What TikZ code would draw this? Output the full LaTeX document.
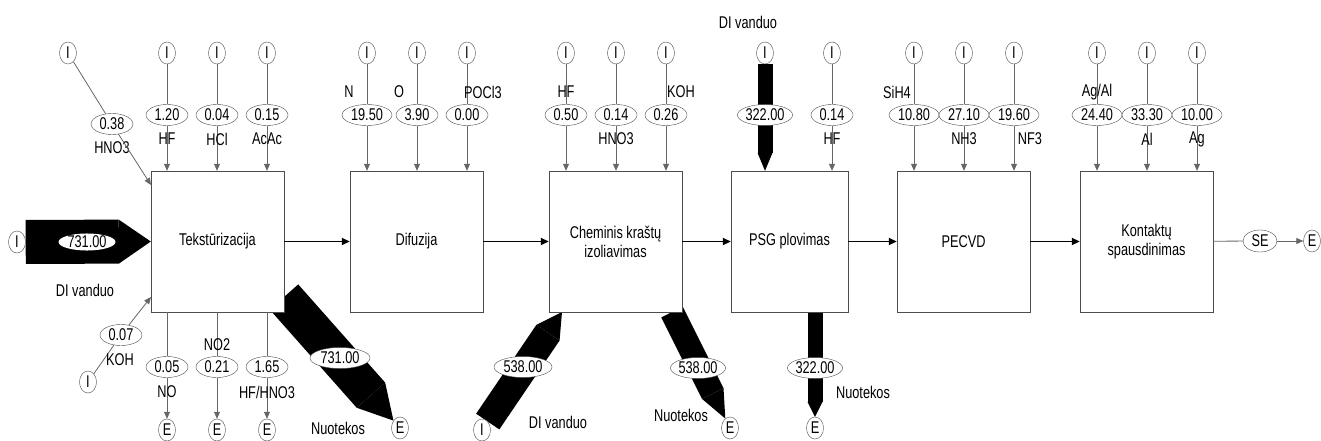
\documentclass[tikz,border=0pt]{standalone}
\usepackage{fontspec}
\setmainfont{Liberation Sans}[FakeStretch=0.75]
\usepackage{tikz}
\usetikzlibrary{arrows.meta,positioning,calc,shapes.geometric,backgrounds}

\begin{document}
\begin{tikzpicture}[x=1pt,y=-1pt,font=\fontsize{17}{19}\selectfont,
  proc/.style={draw=black!70,fill=white,minimum width=133pt,minimum height=141pt,inner sep=0pt,align=center},
  src/.style={ellipse,draw=black!70,fill=white,minimum width=17pt,minimum height=22pt,inner sep=0pt},
  val/.style={ellipse,draw=black!70,fill=white,minimum width=42pt,minimum height=21pt,inner sep=0pt},
  lbl/.style={inner sep=0pt},
  thinline/.style={draw=black!60,line width=0.8pt},
  feed/.style={thinline,-{Triangle[length=7pt,width=6pt]}},
  flow/.style={line width=1.8pt,-{Triangle[length=8pt,width=7pt]}},
  band/.style 2 args={line width=#1,-{Triangle[length=#2,width=#1,line width=0pt]}}]
  \useasboundingbox (0,0) rectangle (1321,441);

  % process boxes
  \node[proc] (tex) at (217.5,241.5) {Tekstūrizacija};
  \node[proc] (dif) at (416.5,241.5) {Difuzija};
  \node[proc] (chem) at (615.5,241.5) {Cheminis kraštų\\izoliavimas};
  \node[proc,minimum width=117pt] (psg) at (789.5,241.5) {PSG plovimas};
  \node[proc] (pec) at (963.5,241.5) {PECVD};
  \node[proc] (kon) at (1146.5,241.5) {Kontaktų\\spausdinimas};
  \draw[flow] (tex) -- (dif);
  \draw[flow] (dif) -- (chem);
  \draw[flow] (chem) -- (psg);
  \draw[flow] (psg) -- (pec);
  \draw[flow] (pec) -- (kon);

  % Teksturizacija
  \node[src] (i10) at (68,53) {I};
  \node[val] (v10) at (112,124) {0.38};
  \node[lbl] at (112,148) {HNO3};
  \coordinate (hn) at (151,185);
  \draw[thinline] (i10) -- (v10);
  \draw[feed] (v10) -- (hn);
  \node[src] (i11) at (167,53) {I};
  \node[val] (v11) at (167,115) {1.20};
  \node[src] (i12) at (217,53) {I};
  \node[val] (v12) at (217,115) {0.04};
  \node[src] (i13) at (267,53) {I};
  \node[val] (v13) at (267,115) {0.15};
  \draw[thinline] (i11) -- (v11);
  \draw[thinline] (i12) -- (v12);
  \draw[thinline] (i13) -- (v13);
  \draw[feed] (v11) -- (tex.north -| v11);
  \draw[feed] (v12) -- (tex.north -| v12);
  \draw[feed] (v13) -- (tex.north -| v13);
  \node[lbl] at (167,139) {HF};
  \node[lbl] at (217,139) {HCl};
  \node[lbl] at (267,139) {AcAc};
  \node[src] (ik) at (88,382) {I};
  \node[val] (vk) at (121,335) {0.07};
  \coordinate (kb) at (151,297);
  \draw[thinline] (ik) -- (vk);
  \draw[feed] (vk) -- (kb);
  \node[lbl] at (120,360) {KOH};
  \node[src] (idw) at (17,242) {I};
  \node[src] (e11) at (167,430) {E};
  \node[val] (o11) at (167,367) {0.05};
  \node[src] (e12) at (217,430) {E};
  \node[val] (o12) at (217,367) {0.21};
  \node[src] (e13) at (267,430) {E};
  \node[val] (o13) at (267,367) {1.65};
  \draw[thinline] (tex.south -| o11) -- (o11);
  \draw[thinline] (tex.south -| o12) -- (o12);
  \draw[thinline] (tex.south -| o13) -- (o13);
  \draw[feed] (o11) -- (e11);
  \draw[feed] (o12) -- (e12);
  \draw[feed] (o13) -- (e13);
  \node[lbl] at (167,392) {NO};
  \node[lbl] at (217,345) {NO2};
  \node[lbl] at (267,392) {HF/HNO3};
  \node[src] (e14) at (400,428) {E};
  \coordinate (t14) at (284,297);

  % Difuzija
  \node[src] (i21) at (367,53) {I};
  \node[val,minimum width=50pt] (v21) at (367,115) {19.50};
  \node[src] (i22) at (417,53) {I};
  \node[val] (v22) at (417,115) {3.90};
  \node[src] (i23) at (467,53) {I};
  \node[val] (v23) at (467,115) {0.00};
  \draw[thinline] (i21) -- (v21);
  \draw[thinline] (i22) -- (v22);
  \draw[thinline] (i23) -- (v23);
  \draw[feed] (v21) -- (dif.north -| v21);
  \draw[feed] (v22) -- (dif.north -| v22);
  \draw[feed] (v23) -- (dif.north -| v23);
  \node[lbl] at (349,92) {N};
  \node[lbl] at (399,92) {O};
  \node[lbl] at (483,92) {POCl3};

  % Cheminis krastu izoliavimas
  \node[src] (i31) at (566,53) {I};
  \node[val] (v31) at (566,115) {0.50};
  \node[src] (i32) at (616,53) {I};
  \node[val] (v32) at (616,115) {0.14};
  \node[src] (i33) at (666,53) {I};
  \node[val] (v33) at (666,115) {0.26};
  \draw[thinline] (i31) -- (v31);
  \draw[thinline] (i32) -- (v32);
  \draw[thinline] (i33) -- (v33);
  \draw[feed] (v31) -- (chem.north -| v31);
  \draw[feed] (v32) -- (chem.north -| v32);
  \draw[feed] (v33) -- (chem.north -| v33);
  \node[lbl] at (566,92) {HF};
  \node[lbl] at (616,139) {HNO3};
  \node[lbl] at (681,92) {KOH};
  \node[src] (i34) at (482,430) {I};
  \coordinate (c34) at (562,312);
  \node[src] (e35) at (730,428) {E};
  \coordinate (c35) at (672,312);

  % PSG plovimas
  \node[src] (i41) at (765,53) {I};
  \node[src] (i42) at (832,53) {I};
  \node[val] (v42) at (832,115) {0.14};
  \draw[thinline] (i42) -- (v42);
  \draw[feed] (v42) -- (psg.north -| v42);
  \node[lbl] at (748,22) {DI vanduo};
  \node[lbl] at (832,139) {HF};
  \node[src] (e43) at (815,428) {E};

  % PECVD
  \node[src] (i51) at (914,53) {I};
  \node[val,minimum width=50pt] (v51) at (914,115) {10.80};
  \node[src] (i52) at (964,53) {I};
  \node[val,minimum width=50pt] (v52) at (964,115) {27.10};
  \node[src] (i53) at (1014,53) {I};
  \node[val,minimum width=50pt] (v53) at (1014,115) {19.60};
  \draw[thinline] (i51) -- (v51);
  \draw[thinline] (i52) -- (v52);
  \draw[thinline] (i53) -- (v53);
  \draw[feed] (v51) -- (pec.north -| v51);
  \draw[feed] (v52) -- (pec.north -| v52);
  \draw[feed] (v53) -- (pec.north -| v53);
  \node[lbl] at (897,92) {SiH4};
  \node[lbl] at (964,139) {NH3};
  \node[lbl] at (1030,139) {NF3};

  % Kontaktu spausdinimas
  \node[src] (i61) at (1097,53) {I};
  \node[val,minimum width=50pt] (v61) at (1097,115) {24.40};
  \node[src] (i62) at (1147,53) {I};
  \node[val,minimum width=50pt] (v62) at (1147,115) {33.30};
  \node[src] (i63) at (1197,53) {I};
  \node[val,minimum width=50pt] (v63) at (1197,115) {10.00};
  \draw[thinline] (i61) -- (v61);
  \draw[thinline] (i62) -- (v62);
  \draw[thinline] (i63) -- (v63);
  \draw[feed] (v61) -- (kon.north -| v61);
  \draw[feed] (v62) -- (kon.north -| v62);
  \draw[feed] (v63) -- (kon.north -| v63);
  \node[lbl] at (1097,92) {Ag/Al};
  \node[lbl] at (1147,139) {Al};
  \node[lbl] at (1197,139) {Ag};
  \node[ellipse,draw=black!70,minimum width=34pt,minimum height=22pt,inner sep=0pt] (se) at (1260,241) {SE};
  \node[src] (e6) at (1312,241) {E};
  \draw[thinline] (kon) -- (se);
  \draw[feed] (se) -- (e6);

  % heavy water streams
  \begin{scope}[on background layer]
    \draw[band={44pt}{32pt}] (idw) -- (tex.west);
    \draw[band={38pt}{34pt}] (t14) -- (e14);
    \draw[band={28pt}{25pt}] (i34) -- (c34);
    \draw[band={24pt}{28pt}] (c35) -- (e35);
    \draw[band={15pt}{18pt}] (i41) -- (psg.north -| i41);
    \draw[band={15pt}{15pt}] (psg.south -| e43) -- (e43);
  \end{scope}
  \node[val,draw=none,minimum width=57pt,minimum height=17pt] at (87,242) {731.00};
  \node[lbl] at (85,290) {DI vanduo};
  \node[val,minimum width=60pt] at (340,358) {731.00};
  \node[lbl] at (338,428) {Nuotekos};
  \node[val,minimum width=58pt] at (523,367) {538.00};
  \node[lbl] at (558,422) {DI vanduo};
  \node[val,minimum width=54pt] at (698,368) {538.00};
  \node[lbl] at (681,415) {Nuotekos};
  \node[val,minimum width=52pt] at (765,115) {322.00};
  \node[val,minimum width=52pt] at (815,368) {322.00};
  \node[lbl] at (863,392) {Nuotekos};
\end{tikzpicture}
\end{document}
